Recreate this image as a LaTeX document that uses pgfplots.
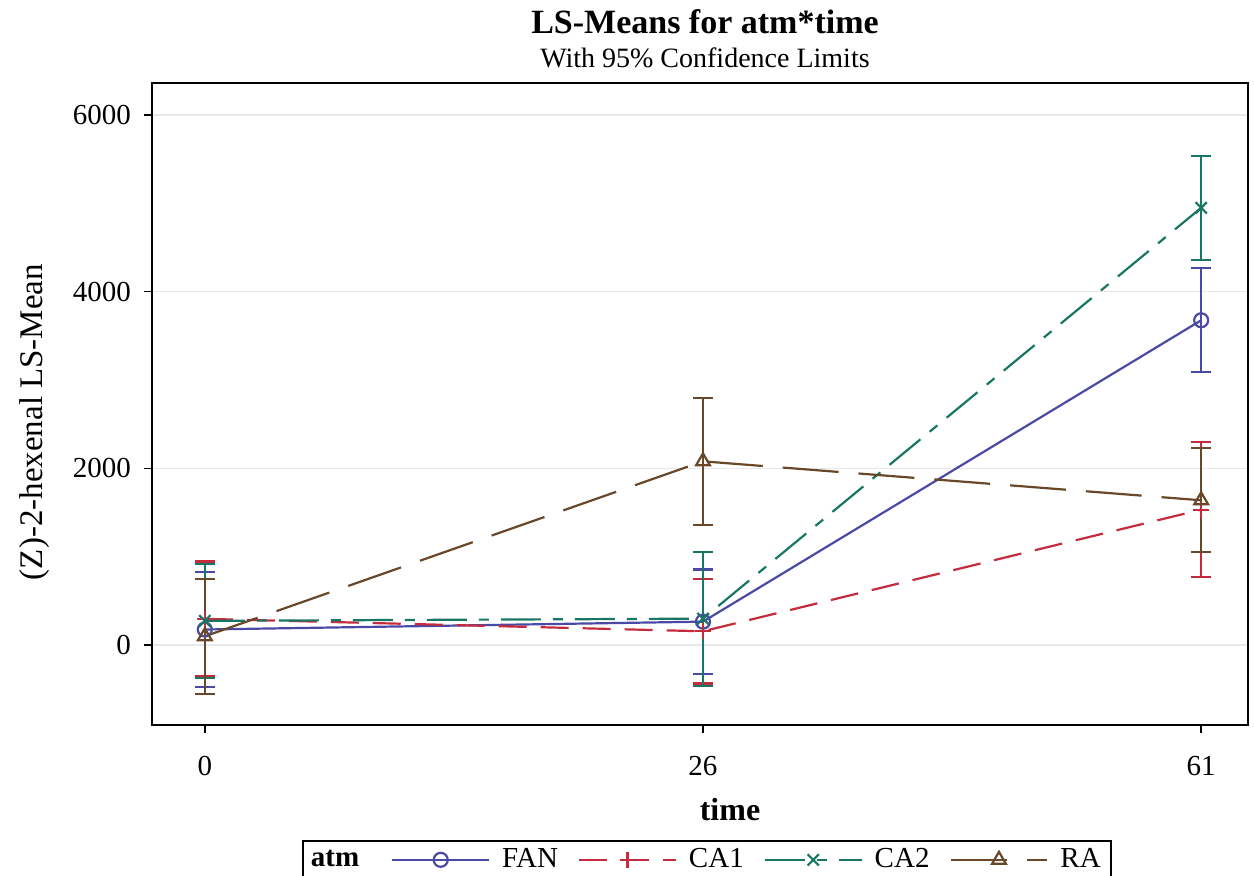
\documentclass[border=0pt]{standalone}
\usepackage{fontspec}
\setmainfont{Liberation Serif}
\usepackage{pgfplots}
\pgfplotsset{compat=1.18}
\definecolor{cfan}{RGB}{74,74,166}
\definecolor{cca1}{RGB}{196,44,62}
\definecolor{cca2}{RGB}{24,118,100}
\definecolor{cra}{RGB}{104,72,40}
\begin{document}
\begin{tikzpicture}
\begin{axis}[
  name=ax, scale only axis, width=548pt, height=321pt,
  xmin=-0.106, xmax=2.094, ymin=-906, ymax=6362,
  xtick={0,1,2}, xticklabels={0,26,61},
  ytick={0,2000,4000,6000},
  xtick pos=bottom, ytick pos=left,
  ymajorgrids, grid style={color=black!9, line width=0.6pt},
  tick align=outside, major tick length=4pt,
  tick style={black, line width=0.8pt},
  axis line style={line width=0.8pt},
  font=\fontsize{14.5}{16}\selectfont,
  /pgf/number format/assume math mode=true,
  scaled y ticks=false,
  yticklabel style={/pgf/number format/1000 sep={}, xshift=-3pt},
  xticklabel style={yshift=-8pt},
  every axis plot/.append style={line width=1.1pt},
  legend image code/.code={\draw[mark repeat=2,mark phase=2,#1] plot coordinates {(0cm,0cm) (0.85cm,0cm) (1.7cm,0cm)};},
  legend columns=5,
  legend style={at={(axis description cs:0.137,-0.179)}, anchor=north west,
    draw=black, line width=0.8pt, font=\fontsize{14.5}{16}\selectfont,
    /tikz/every even column/.append style={column sep=8pt},
    /tikz/every odd column/.append style={column sep=4pt}},
  legend entries={\kern-5pt\textbf{atm}\kern6pt\null,FAN,CA1,CA2,RA},
  error bars/y dir=both, error bars/y explicit,
  error bars/error bar style={solid, line width=1.1pt},
  error bars/error mark options={solid, rotate=90, mark size=5pt, line width=1.1pt},
]
\addlegendimage{empty legend}
% FAN
\addplot[cfan, solid, mark=o, mark size=3.5pt, mark options={solid}]
  coordinates {(0,175) +- (0,650) (1,264) +- (0,590) (2,3676) +- (0,590)};
% CA1
\addplot[cca1, dash pattern=on 14pt off 7pt, mark=+, mark size=4pt, mark options={solid}]
  coordinates {(0,296) +- (0,650) (1,155) +- (0,592) (2,1532) +- (0,762)};
% CA2
\addplot[cca2, dash pattern=on 20pt off 6pt on 5pt off 6pt, mark=x, mark size=4pt, mark options={solid}]
  coordinates {(0,273) +- (0,644) (1,298) +- (0,758) (2,4949) +- (0,590)};
% RA
\addplot[cra, dash pattern=on 28pt off 10pt, mark=triangle, mark size=4pt, mark options={solid}]
  coordinates {(0,98) +- (0,649) (1,2079) +- (0,717) (2,1638) +- (0,589)};
\end{axis}
\path (ax.north west) ++(276.5pt,30.5pt) node[font=\fontsize{17}{19}\bfseries] {LS-Means for atm*time};
\path (ax.north west) ++(276.5pt,12.5pt) node[font=\fontsize{14}{16}\selectfont] {With 95\% Confidence Limits};
\path (ax.south west) ++(-58.5pt,151.5pt) node[rotate=90, font=\fontsize{16.5}{18}\selectfont] {(Z)-2-hexenal LS-Mean};
\path (ax.south west) ++(289pt,-42.5pt) node[font=\fontsize{16}{18}\bfseries] {time};
\pgfresetboundingbox
\path[use as bounding box] ([shift={(-76pt,-75pt)}]ax.south west) rectangle ([shift={(551pt,362.5pt)}]ax.south west);
\end{tikzpicture}
\end{document}
